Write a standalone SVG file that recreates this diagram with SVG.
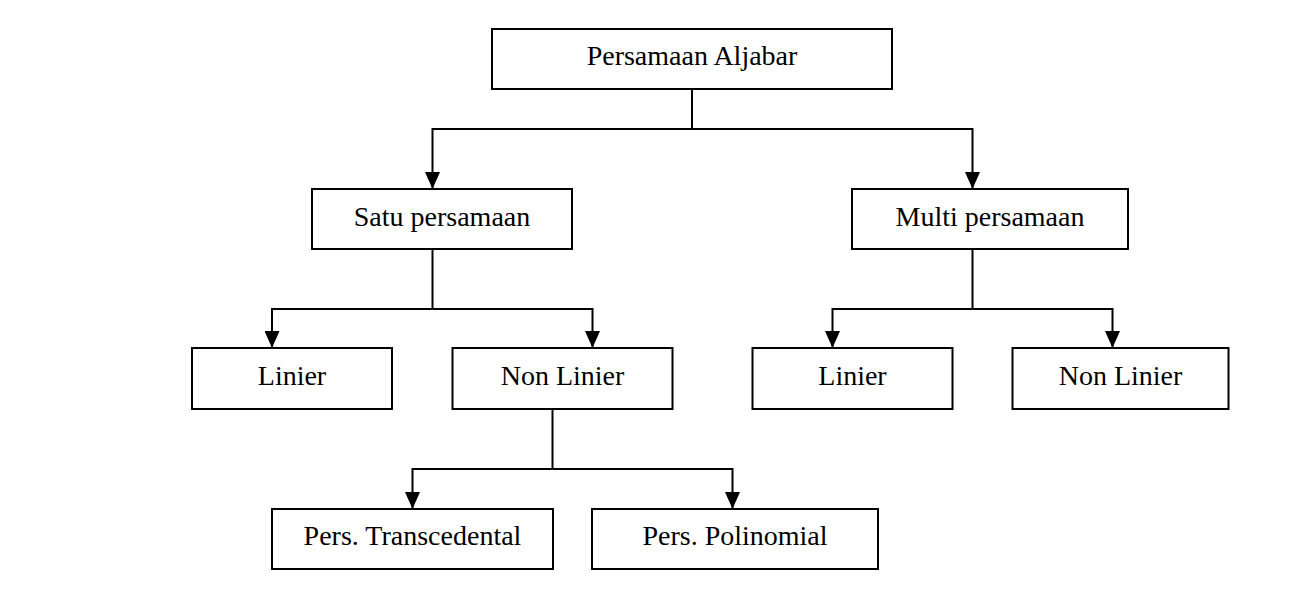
<svg xmlns="http://www.w3.org/2000/svg" width="1305" height="606" viewBox="0 0 1305 606">
  <style>
    .box { fill: #ffffff; stroke: #000000; stroke-width: 2; }
    .lbl { font-family: "Liberation Serif", "Times New Roman", serif; font-size: 28px; fill: #000000; text-anchor: middle; }
    .conn { fill: none; stroke: #000000; stroke-width: 2; }
  </style>
  <defs>
    <marker id="arrow" markerUnits="userSpaceOnUse" markerWidth="17" markerHeight="15" refX="17" refY="7.5" orient="auto">
      <path d="M0,0 L17,7.5 L0,15 Z" fill="#000000"/>
    </marker>
  </defs>
  <rect width="1305" height="606" fill="#ffffff"/>

  <g id="connectors">
    <path class="conn" d="M692,89 V129"/>
    <path class="conn" d="M692,129 H432.5 V189" marker-end="url(#arrow)"/>
    <path class="conn" d="M692,129 H972.5 V189" marker-end="url(#arrow)"/>
    <path class="conn" d="M432.5,249 V309"/>
    <path class="conn" d="M432.5,309 H272 V348" marker-end="url(#arrow)"/>
    <path class="conn" d="M432.5,309 H592.5 V348" marker-end="url(#arrow)"/>
    <path class="conn" d="M972.5,249 V309"/>
    <path class="conn" d="M972.5,309 H832.5 V348" marker-end="url(#arrow)"/>
    <path class="conn" d="M972.5,309 H1112.5 V348" marker-end="url(#arrow)"/>
    <path class="conn" d="M552.5,409 V469"/>
    <path class="conn" d="M552.5,469 H412.5 V509" marker-end="url(#arrow)"/>
    <path class="conn" d="M552.5,469 H732.5 V509" marker-end="url(#arrow)"/>
  </g>

  <g id="node-root">
    <rect class="box" x="492" y="29" width="400" height="60"/>
    <text class="lbl" x="692" y="65">Persamaan Aljabar</text>
  </g>
  <g id="node-satu">
    <rect class="box" x="312" y="189" width="260" height="60"/>
    <text class="lbl" x="442" y="226">Satu persamaan</text>
  </g>
  <g id="node-multi">
    <rect class="box" x="852" y="189" width="276" height="60"/>
    <text class="lbl" x="990" y="226">Multi persamaan</text>
  </g>
  <g id="node-linier-1">
    <rect class="box" x="192" y="348" width="200" height="61"/>
    <text class="lbl" x="292" y="385">Linier</text>
  </g>
  <g id="node-nonlinier-1">
    <rect class="box" x="452.5" y="348" width="220" height="61"/>
    <text class="lbl" x="562.5" y="385">Non Linier</text>
  </g>
  <g id="node-linier-2">
    <rect class="box" x="752.5" y="348" width="200" height="61"/>
    <text class="lbl" x="852.5" y="385">Linier</text>
  </g>
  <g id="node-nonlinier-2">
    <rect class="box" x="1012.5" y="348" width="216" height="61"/>
    <text class="lbl" x="1120.5" y="385">Non Linier</text>
  </g>
  <g id="node-transcedental">
    <rect class="box" x="272" y="509" width="281" height="60"/>
    <text class="lbl" x="412.5" y="545">Pers. Transcedental</text>
  </g>
  <g id="node-polinomial">
    <rect class="box" x="592" y="509" width="286" height="60"/>
    <text class="lbl" x="735" y="545">Pers. Polinomial</text>
  </g>
</svg>
